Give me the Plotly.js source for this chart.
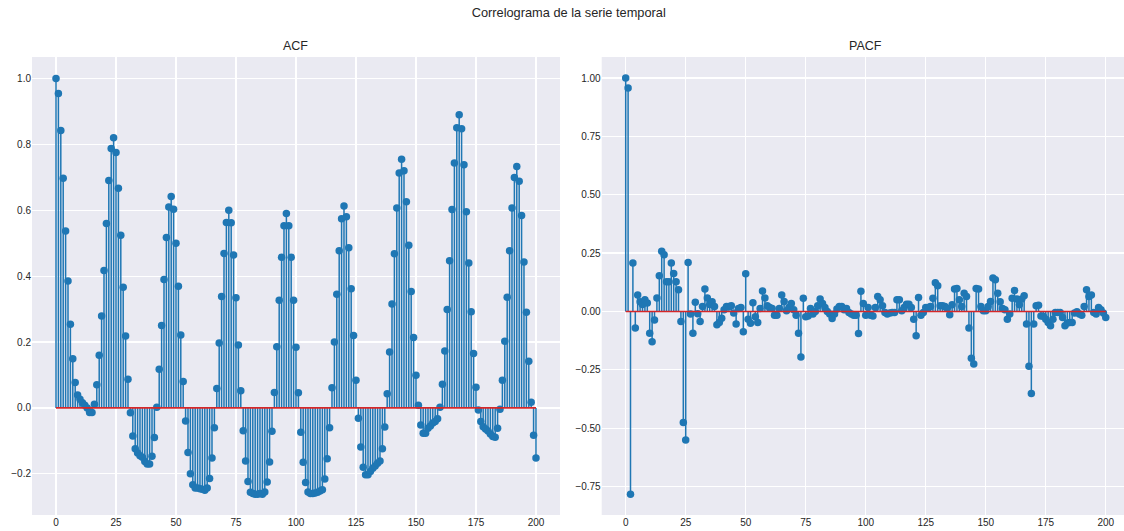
<!DOCTYPE html>
<html>
<head>
<meta charset="utf-8">
<script src="https://cdn.plot.ly/plotly-3.0.1.min.js"></script>
<style>
  html, body { margin: 0; padding: 0; background: #ffffff; }
  #chart { width: 1124px; height: 531px; }
</style>
</head>
<body>
<div id="chart"></div>
<script>
// Autocorrelation (ACF) for lags 0..200
const acfValues = [
  1.0, 0.954, 0.842, 0.697, 0.537, 0.385, 0.254, 0.149, 0.077, 0.039,
  0.026, 0.016, 0.008, 0.0, -0.014, -0.014, 0.011, 0.07, 0.16, 0.279,
  0.417, 0.56, 0.69, 0.787, 0.82, 0.775, 0.667, 0.524, 0.366, 0.218,
  0.087, -0.015, -0.085, -0.124, -0.137, -0.145, -0.15, -0.163, -0.17, -0.17,
  -0.147, -0.09, 0.002, 0.117, 0.25, 0.39, 0.517, 0.61, 0.642, 0.603,
  0.50, 0.369, 0.221, 0.08, -0.04, -0.135, -0.2, -0.233, -0.243, -0.243,
  -0.245, -0.247, -0.25, -0.243, -0.214, -0.152, -0.06, 0.059, 0.197, 0.338,
  0.469, 0.563, 0.60, 0.562, 0.464, 0.334, 0.191, 0.052, -0.069, -0.161,
  -0.223, -0.256, -0.26, -0.262, -0.262, -0.26, -0.262, -0.255, -0.225, -0.164,
  -0.071, 0.047, 0.186, 0.327, 0.457, 0.553, 0.59, 0.553, 0.457, 0.327,
  0.184, 0.046, -0.074, -0.165, -0.226, -0.255, -0.26, -0.26, -0.258, -0.256,
  -0.252, -0.248, -0.216, -0.154, -0.06, 0.061, 0.2, 0.345, 0.477, 0.574,
  0.613, 0.58, 0.486, 0.362, 0.22, 0.084, -0.031, -0.119, -0.18, -0.203,
  -0.203, -0.193, -0.183, -0.176, -0.168, -0.161, -0.124, -0.058, 0.043, 0.17,
  0.315, 0.468, 0.607, 0.713, 0.755, 0.72, 0.626, 0.494, 0.353, 0.214,
  0.099, 0.008, -0.052, -0.077, -0.077, -0.062, -0.055, -0.046, -0.041, -0.033,
  0.002, 0.072, 0.173, 0.299, 0.447, 0.602, 0.743, 0.85, 0.89, 0.847,
  0.738, 0.595, 0.44, 0.292, 0.165, 0.063, -0.006, -0.041, -0.057, -0.064,
  -0.07, -0.079, -0.087, -0.089, -0.062, -0.004, 0.084, 0.202, 0.336, 0.477,
  0.607, 0.699, 0.733, 0.688, 0.584, 0.443, 0.29, 0.142, 0.017, -0.083,
  -0.152
];

// Partial autocorrelation (PACF) for lags 0..200
const pacfValues = [
  1.0, 0.957, -0.783, 0.207, -0.071, 0.07, 0.041, 0.03, 0.05, 0.036,
  -0.093, -0.13, -0.037, 0.058, 0.153, 0.258, 0.243, 0.127, 0.127, 0.207,
  0.163, 0.127, 0.093, -0.043, -0.476, -0.551, 0.21, -0.011, -0.093, 0.039,
  -0.01, -0.043, 0.021, 0.096, 0.058, 0.03, 0.041, 0.021, -0.057, -0.047,
  -0.029, 0.007, 0.021, 0.021, 0.024, -0.007, -0.054, 0.013, 0.017, -0.087,
  0.161, -0.033, -0.051, 0.037, -0.023, -0.047, 0.013, 0.088, 0.058, 0.024,
  0.017, 0.013, -0.016, -0.016, 0.013, 0.07, 0.043, 0.003, 0.017, 0.034,
  0.007, -0.016, -0.093, -0.195, 0.056, -0.023, -0.019, 0.013, -0.011, 0.0,
  0.024, 0.053, 0.034, 0.017, 0.0, -0.011, -0.03, -0.011, 0.01, 0.021,
  0.021, 0.007, 0.013, -0.004, -0.011, -0.016, -0.016, -0.094, 0.086, 0.034,
  -0.016, 0.017, -0.016, -0.019, 0.017, 0.064, 0.05, 0.024, -0.004, -0.011,
  -0.007, -0.004, -0.004, 0.05, 0.05, 0.003, 0.017, 0.031, 0.031, 0.017,
  -0.033, -0.104, 0.06, -0.016, -0.004, 0.017, 0.017, 0.021, 0.056, 0.123,
  0.11, 0.024, 0.024, 0.021, 0.013, -0.014, 0.029, 0.096, 0.098, 0.05,
  0.021, 0.078, 0.064, -0.071, -0.201, -0.225, 0.098, 0.096, 0.021, 0.003,
  0.003, 0.021, 0.043, 0.143, 0.136, 0.078, 0.041, 0.013, 0.007, -0.033,
  -0.011, 0.057, 0.09, 0.053, 0.029, 0.053, 0.067, -0.054, -0.235, -0.352,
  -0.054, 0.024, 0.027, -0.019, -0.021, -0.033, -0.047, -0.061, -0.033, -0.004,
  -0.004, -0.004, -0.026, -0.061, -0.05, -0.047, -0.047, -0.007, -0.001, -0.011,
  -0.016, 0.021, 0.093, 0.064, 0.07, -0.004, -0.011, 0.017, 0.007, -0.007,
  -0.026
];

const lags = acfValues.map((_, i) => i);
const xTickVals = [0, 25, 50, 75, 100, 125, 150, 175, 200];
const panelTitles = ['ACF', 'PACF'];
const figureTitle = 'Correlograma de la serie temporal';

const stemColor = '#1f77b4';
const baseColor = '#d62728';
const textColor = '#262626';
const fontFamily = '"Liberation Sans", Arial, "DejaVu Sans", sans-serif';

// Builds stem lines, markers and the zero baseline for one panel
function stemTraces(values, xa, ya) {
  const sx = [], sy = [];
  values.forEach((v, i) => {
    sx.push(lags[i], lags[i], null);
    sy.push(0, v, null);
  });
  return [
    { x: sx, y: sy, xaxis: xa, yaxis: ya, type: 'scatter', mode: 'lines',
      line: { color: stemColor, width: 1.5 }, hoverinfo: 'skip', showlegend: false },
    { x: lags, y: values, xaxis: xa, yaxis: ya, type: 'scatter', mode: 'markers',
      marker: { color: stemColor, size: 7.5 }, showlegend: false },
    { x: [lags[0], lags[lags.length - 1]], y: [0, 0], xaxis: xa, yaxis: ya,
      type: 'scatter', mode: 'lines', line: { color: baseColor, width: 1.6 },
      hoverinfo: 'skip', showlegend: false }
  ];
}

const data = [
  ...stemTraces(acfValues, 'x', 'y'),
  ...stemTraces(pacfValues, 'x2', 'y2')
];

const axisCommon = {
  showgrid: true, gridcolor: '#ffffff', gridwidth: 1.2,
  zeroline: false, showline: false, ticks: '',
  tickfont: { family: fontFamily, size: 10, color: textColor }
};

const layout = {
  width: 1124, height: 531,
  margin: { l: 32, r: 0, t: 57, b: 16 },
  paper_bgcolor: '#ffffff',
  plot_bgcolor: '#eaeaf2',
  font: { family: fontFamily, color: textColor },
  title: {
    text: figureTitle, xref: 'container', yref: 'container',
    x: 0.506, xanchor: 'center', y: 0.976, yanchor: 'middle',
    font: { family: fontFamily, size: 12.8, color: textColor }
  },
  xaxis: Object.assign({}, axisCommon, {
    domain: [0, 0.4835], range: [-10, 210], tickvals: xTickVals, anchor: 'y'
  }),
  yaxis: Object.assign({}, axisCommon, {
    domain: [0, 1], range: [-0.325, 1.065], tick0: 0, dtick: 0.2,
    tickformat: '.1f', anchor: 'x'
  }),
  xaxis2: Object.assign({}, axisCommon, {
    domain: [0.5217, 1], range: [-10, 207.6], tickvals: xTickVals, anchor: 'y2'
  }),
  yaxis2: Object.assign({}, axisCommon, {
    domain: [0, 1], range: [-0.872, 1.09], tick0: 0, dtick: 0.25,
    tickformat: '.2f', anchor: 'x2'
  }),
  annotations: [
    { text: panelTitles[0], xref: 'paper', yref: 'paper', x: 0.24175, y: 1.024,
      xanchor: 'center', yanchor: 'middle', showarrow: false,
      font: { family: fontFamily, size: 12.5, color: textColor } },
    { text: panelTitles[1], xref: 'paper', yref: 'paper', x: 0.7632, y: 1.024,
      xanchor: 'center', yanchor: 'middle', showarrow: false,
      font: { family: fontFamily, size: 12.5, color: textColor } }
  ]
};

Plotly.newPlot('chart', data, layout, { displayModeBar: false, staticPlot: true });
</script>
</body>
</html>
